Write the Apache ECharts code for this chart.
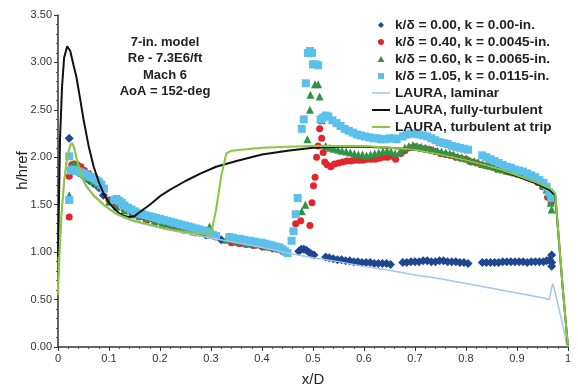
<!DOCTYPE html>
<html>
<head>
<meta charset="utf-8">
<script src="https://cdn.jsdelivr.net/npm/echarts@6/dist/echarts.min.js"></script>
<style>
  html, body { margin: 0; padding: 0; background: #fff; }
  #chart { width: 578px; height: 389px; }
</style>
</head>
<body>
<div id="chart"></div>
<script>
// legend names
var seriesNames = [
	'k/\u03b4 = 0.00, k = 0.00-in.',
	'k/\u03b4 = 0.40, k = 0.0045-in.',
	'k/\u03b4 = 0.60, k = 0.0065-in.',
	'k/\u03b4 = 1.05, k = 0.0115-in.',
	'LAURA, laminar',
	'LAURA, fully-turbulent',
	'LAURA, turbulent at trip'
];
var xTicks = [0, 0.1, 0.2, 0.3, 0.4, 0.5, 0.6, 0.7, 0.8, 0.9, 1];
var yTicks = [0, 0.5, 1, 1.5, 2, 2.5, 3, 3.5];
var noteLines = ['7-in. model', 'Re - 7.3E6/ft', 'Mach 6', 'AoA = 152-deg'];

// measured points [x/D, h/href]
var k000 = [
	[0.022,2.2],[0.025,1.88],[0.03,1.86],[0.04,1.84],[0.05,1.8],[0.06,1.76],[0.07,1.72],[0.08,1.68],[0.089,1.6],
	[0.11,1.53],[0.13,1.47],[0.15,1.4],[0.17,1.36],[0.19,1.33],[0.21,1.3],[0.23,1.27],[0.25,1.24],[0.27,1.21],[0.29,1.18],
	[0.32,1.13],[0.34,1.12],[0.36,1.1],[0.38,1.08],[0.4,1.06],[0.42,1.04],[0.44,1.01],
	[0.472,1.01],[0.477,1.03],[0.482,1.03],[0.487,1.02],[0.492,1.0],[0.497,0.98],[0.502,0.97],
	[0.525,0.95],[0.532,0.94],[0.54,0.93],[0.548,0.92],[0.556,0.92],[0.564,0.91],[0.572,0.91],[0.58,0.9],[0.588,0.9],
	[0.596,0.89],[0.604,0.89],[0.612,0.89],[0.62,0.88],[0.628,0.88],[0.636,0.88],[0.644,0.88],[0.652,0.87],
	[0.676,0.89],[0.684,0.89],[0.692,0.9],[0.7,0.9],[0.708,0.9],[0.716,0.91],[0.724,0.91],[0.732,0.9],[0.74,0.9],
	[0.748,0.91],[0.756,0.91],[0.764,0.9],[0.772,0.9],[0.78,0.9],[0.788,0.89],[0.796,0.89],[0.804,0.88],
	[0.832,0.89],[0.84,0.89],[0.848,0.89],[0.856,0.89],[0.864,0.89],[0.872,0.9],[0.88,0.9],[0.888,0.9],[0.896,0.9],
	[0.904,0.9],[0.912,0.9],[0.92,0.89],[0.928,0.9],[0.936,0.9],[0.944,0.9],[0.952,0.9],[0.958,0.91],[0.964,0.92],
	[0.968,0.97],[0.968,0.85],[0.968,0.89]
];
var k040 = [
	[0.022,1.37],[0.022,1.8],[0.027,1.92],[0.032,1.93],[0.038,1.92],[0.045,1.9],[0.052,1.86],[0.06,1.83],[0.068,1.79],[0.076,1.76],[0.085,1.72],
	[0.1,1.55],[0.115,1.5],[0.13,1.45],[0.145,1.41],[0.16,1.37],[0.175,1.34],[0.19,1.31],[0.205,1.29],[0.22,1.27],[0.235,1.25],
	[0.25,1.23],[0.265,1.21],[0.28,1.2],[0.295,1.18],[0.31,1.16],[0.34,1.1],[0.355,1.09],[0.37,1.08],[0.385,1.07],[0.4,1.06],
	[0.415,1.05],[0.43,1.03],[0.44,1.01],
	[0.461,1.22],[0.466,1.3],[0.476,1.33],[0.494,1.28],[0.498,1.52],[0.501,1.7],[0.504,1.79],[0.507,2.0],[0.51,2.12],
	[0.513,2.3],[0.517,2.2],[0.52,2.05],[0.523,1.95],
	[0.528,1.92],[0.535,1.9],[0.542,1.93],[0.55,1.94],[0.558,1.95],[0.566,1.96],[0.574,1.96],[0.582,1.97],[0.59,1.97],
	[0.598,1.97],[0.606,1.98],[0.614,1.98],[0.622,1.98],[0.63,1.99],[0.638,2.0],[0.646,2.0],[0.654,2.01],[0.662,1.98],
	[0.672,2.04],[0.68,2.07],[0.69,2.1],[0.7,2.11],[0.71,2.1],[0.72,2.09],[0.73,2.08],[0.74,2.06],[0.75,2.04],[0.76,2.03],
	[0.77,2.02],[0.78,2.0],[0.79,1.99],[0.8,1.98],[0.81,1.95],[0.82,1.94],[0.83,1.92],[0.84,1.91],[0.85,1.9],[0.86,1.88],
	[0.87,1.87],[0.88,1.85],[0.89,1.84],[0.9,1.83],[0.91,1.81],[0.92,1.79],[0.93,1.77],[0.94,1.74],[0.95,1.69],[0.96,1.58],[0.967,1.52]
];
var k060 = [
	[0.022,1.6],[0.026,1.9],[0.031,1.93],[0.037,1.9],[0.044,1.86],[0.052,1.82],[0.06,1.78],[0.068,1.75],[0.076,1.72],[0.084,1.7],
	[0.1,1.53],[0.115,1.48],[0.13,1.44],[0.145,1.4],[0.16,1.38],[0.175,1.36],[0.19,1.33],[0.205,1.31],[0.22,1.29],[0.235,1.26],
	[0.25,1.24],[0.265,1.22],[0.28,1.21],[0.297,1.27],[0.31,1.17],[0.33,1.13],[0.35,1.11],[0.37,1.09],[0.39,1.08],[0.41,1.06],[0.43,1.04],
	[0.478,1.43],[0.485,1.5],[0.489,2.19],[0.494,2.5],[0.495,2.66],[0.504,2.77],[0.51,2.77],[0.513,2.64],[0.517,2.39],
	[0.525,2.12],[0.533,2.1],[0.541,2.09],[0.549,2.08],[0.557,2.07],[0.565,2.06],[0.573,2.05],[0.581,2.04],[0.589,2.03],
	[0.597,2.03],[0.605,2.02],[0.613,2.03],[0.621,2.04],[0.629,2.05],[0.637,2.06],[0.645,2.07],[0.653,2.06],[0.661,2.04],
	[0.672,2.06],[0.68,2.1],[0.688,2.12],[0.696,2.13],[0.704,2.12],[0.712,2.11],[0.72,2.1],[0.728,2.09],[0.736,2.08],
	[0.744,2.07],[0.752,2.06],[0.76,2.05],[0.768,2.04],[0.776,2.03],[0.784,2.01],[0.792,2.0],[0.8,1.99],[0.808,1.97],
	[0.816,1.96],[0.824,1.95],[0.832,1.93],[0.84,1.92],[0.848,1.91],[0.856,1.9],[0.864,1.88],[0.872,1.87],[0.88,1.86],
	[0.888,1.85],[0.896,1.84],[0.904,1.83],[0.912,1.82],[0.92,1.8],[0.928,1.79],[0.936,1.77],[0.944,1.74],[0.952,1.7],
	[0.958,1.66],[0.962,1.6],[0.966,1.52],[0.968,1.45]
];
var k105 = [
	[0.022,2.01],[0.022,1.55],[0.025,1.86],[0.03,1.87],[0.035,1.86],[0.04,1.85],[0.045,1.84],[0.05,1.83],[0.055,1.82],[0.06,1.8],
	[0.065,1.79],[0.07,1.78],[0.075,1.76],[0.08,1.74],[0.085,1.71],[0.09,1.67],
	[0.11,1.55],[0.115,1.56],[0.12,1.54],[0.125,1.52],[0.13,1.49],[0.137,1.47],[0.144,1.45],[0.151,1.43],[0.158,1.41],
	[0.165,1.4],[0.172,1.39],[0.179,1.38],[0.186,1.37],[0.193,1.36],[0.2,1.35],[0.207,1.34],[0.214,1.33],[0.221,1.32],
	[0.228,1.31],[0.235,1.3],[0.242,1.29],[0.249,1.28],[0.256,1.27],[0.263,1.26],[0.27,1.25],[0.277,1.24],[0.284,1.23],
	[0.291,1.22],[0.298,1.2],[0.304,1.18],[0.31,1.17],
	[0.336,1.16],[0.343,1.15],[0.35,1.14],[0.357,1.14],[0.364,1.13],[0.371,1.12],[0.378,1.12],[0.385,1.11],[0.392,1.1],
	[0.399,1.1],[0.406,1.09],[0.413,1.08],[0.42,1.07],[0.427,1.06],[0.434,1.05],[0.44,1.03],[0.445,1.01],[0.45,0.99],
	[0.458,1.12],[0.462,1.22],[0.466,1.4],[0.47,1.57],[0.478,2.3],[0.482,2.4],[0.486,2.78],[0.49,3.1],[0.494,3.12],
	[0.498,3.1],[0.5,2.98],[0.505,2.98],[0.51,2.97],
	[0.515,2.4],[0.52,2.42],[0.525,2.44],[0.53,2.43],[0.538,2.39],[0.546,2.36],[0.554,2.33],[0.562,2.3],[0.57,2.28],
	[0.578,2.26],[0.586,2.24],[0.594,2.23],[0.602,2.22],[0.61,2.21],[0.618,2.2],[0.626,2.2],[0.634,2.19],[0.642,2.19],
	[0.65,2.2],[0.658,2.2],[0.664,2.19],
	[0.676,2.22],[0.684,2.24],[0.692,2.25],[0.7,2.25],[0.708,2.24],[0.716,2.23],[0.724,2.22],[0.732,2.2],[0.74,2.18],
	[0.748,2.16],[0.756,2.15],[0.764,2.14],[0.772,2.12],[0.78,2.11],[0.788,2.1],[0.796,2.09],[0.804,2.08],
	[0.832,2.02],[0.84,2.0],[0.848,1.98],[0.856,1.96],[0.864,1.94],[0.872,1.92],[0.88,1.9],[0.888,1.89],[0.896,1.87],
	[0.904,1.86],[0.912,1.85],[0.92,1.83],[0.928,1.81],[0.936,1.79],[0.944,1.76],[0.952,1.73],[0.958,1.69],[0.963,1.63],[0.967,1.57]
];

// LAURA predictions
var lauraLaminar = [
	[0,0.6],[0.003,1.0],[0.007,1.4],[0.012,1.75],[0.018,2.0],[0.024,2.12],[0.028,2.14],[0.032,2.08],[0.037,1.97],[0.045,1.81],
	[0.055,1.69],[0.07,1.59],[0.09,1.49],[0.11,1.41],[0.13,1.36],[0.15,1.32],[0.18,1.28],[0.21,1.24],[0.24,1.21],[0.27,1.18],
	[0.3,1.15],[0.35,1.1],[0.4,1.05],[0.45,0.99],[0.5,0.94],[0.55,0.9],[0.6,0.85],[0.65,0.81],[0.7,0.76],[0.75,0.72],
	[0.8,0.67],[0.85,0.62],[0.9,0.57],[0.95,0.52],[0.963,0.5],[0.97,0.67],[0.976,0.55],[0.99,0.22],[0.998,0.02]
];
var lauraTurb = [
	[0,0.95],[0.004,2.2],[0.008,2.75],[0.012,3.05],[0.018,3.17],[0.024,3.12],[0.03,2.98],[0.036,2.85],[0.042,2.66],[0.05,2.4],
	[0.06,2.12],[0.07,1.9],[0.08,1.74],[0.09,1.61],[0.1,1.52],[0.11,1.46],[0.12,1.41],[0.13,1.38],[0.14,1.37],[0.15,1.38],
	[0.16,1.42],[0.18,1.5],[0.2,1.59],[0.22,1.66],[0.25,1.75],[0.28,1.83],[0.31,1.9],[0.35,1.96],[0.4,2.03],[0.45,2.07],
	[0.5,2.1],[0.55,2.11],[0.6,2.11],[0.65,2.1],[0.7,2.08],[0.75,2.03],[0.8,1.97],[0.85,1.9],[0.9,1.8],[0.94,1.72],
	[0.965,1.65],[0.975,1.6],[0.99,0.6],[1.0,0.0]
];
var lauraTrip = [
	[0,0.55],[0.003,1.0],[0.007,1.4],[0.012,1.75],[0.018,2.0],[0.024,2.13],[0.028,2.15],[0.032,2.1],[0.037,1.98],[0.045,1.82],
	[0.055,1.7],[0.07,1.6],[0.09,1.5],[0.11,1.42],[0.13,1.37],[0.15,1.33],[0.18,1.29],[0.21,1.25],[0.24,1.22],[0.27,1.2],
	[0.3,1.19],[0.31,1.45],[0.32,1.8],[0.33,2.04],[0.34,2.07],[0.4,2.1],[0.45,2.11],[0.5,2.12],[0.55,2.12],[0.6,2.12],
	[0.65,2.1],[0.7,2.08],[0.75,2.03],[0.8,1.97],[0.85,1.9],[0.9,1.81],[0.94,1.73],[0.965,1.67],[0.975,1.62],[0.99,0.6],[1.0,0.0]
];

var chart = echarts.init(document.getElementById('chart'));
var font = '"Liberation Sans", Arial, Helvetica, sans-serif';

// legend icons drawn inside an 18x8 box so they are not stretched
var box = 'M0,0L0,0M18,8L18,8';
var legendIcons = [
	'path://' + box + 'M9,1L12,4L9,7L6,4Z',
	'path://' + box + 'M6,4A3,3 0 1,0 12,4A3,3 0 1,0 6,4Z',
	'path://' + box + 'M9,1L12.5,7L5.5,7Z',
	'path://' + box + 'M6,1L12,1L12,7L6,7Z',
	'path://' + box + 'M0,3.2L18,3.2L18,4.8L0,4.8Z',
	'path://' + box + 'M0,3L18,3L18,5L0,5Z',
	'path://' + box + 'M0,3L18,3L18,5L0,5Z'
];
var legendData = seriesNames.map(function(n, i) {
	return { name: n, icon: legendIcons[i] };
});

function pointSeries(name, data, symbol, size, color) {
	return {
		name: name,
		type: 'scatter',
		data: data,
		symbol: symbol,
		symbolSize: size,
		itemStyle: { color: color, opacity: 1 },
		z: 2
	};
}
function lineSeries(name, data, color, width) {
	return {
		name: name,
		type: 'line',
		data: data,
		showSymbol: false,
		symbol: 'none',
		lineStyle: { color: color, width: width },
		itemStyle: { color: color },
		z: 3
	};
}

var option = {
	animation: false,
	backgroundColor: '#fff',
	textStyle: { fontFamily: font },
	grid: { left: 58, right: 10, top: 15, bottom: 42, outerBoundsMode: 'none', containLabel: false },
	xAxis: {
		type: 'value',
		min: xTicks[0],
		max: xTicks[xTicks.length - 1],
		interval: 0.1,
		name: 'x/D',
		nameLocation: 'middle',
		nameGap: 25,
		nameMoveOverlap: false,
		nameTextStyle: { fontSize: 15, color: '#222', fontFamily: font },
		axisLine: { lineStyle: { color: '#333', width: 1.5 } },
		axisTick: { length: 4, lineStyle: { color: '#333' } },
		minorTick: { show: true, splitNumber: 5, length: 2, lineStyle: { color: '#555' } },
		splitLine: { show: false },
		axisLabel: {
			fontSize: 11, color: '#333', margin: 6,
			formatter: function(v) { return String(Math.round(v * 10) / 10); }
		}
	},
	yAxis: {
		type: 'value',
		min: yTicks[0],
		max: yTicks[yTicks.length - 1],
		interval: 0.5,
		name: 'h/href',
		nameLocation: 'middle',
		nameGap: 28,
		nameRotate: 90,
		nameMoveOverlap: false,
		nameTextStyle: { fontSize: 15, color: '#222', fontFamily: font, padding: [0, 0, 0, 21] },
		axisLine: { show: true, lineStyle: { color: '#333', width: 1.5 } },
		axisTick: { show: true, length: 4, lineStyle: { color: '#333' } },
		minorTick: { show: true, splitNumber: 5, length: 2, lineStyle: { color: '#555' } },
		splitLine: { show: false },
		axisLabel: {
			fontSize: 11, color: '#333', margin: 6,
			formatter: function(v) { return v.toFixed(2); }
		}
	},
	legend: {
		orient: 'vertical',
		left: 372,
		top: 18,
		padding: 0,
		itemWidth: 18,
		itemHeight: 8,
		itemGap: 3,
		symbolKeepAspect: true,
		selectedMode: false,
		data: legendData,
		textStyle: { fontSize: 13.7, fontWeight: 'bold', color: '#222', lineHeight: 14, fontFamily: font }
	},
	graphic: [{
		type: 'text',
		x: 165,
		y: 34,
		style: {
			text: noteLines.join('\n'),
			font: 'bold 13px ' + font,
			fill: '#222',
			align: 'center',
			verticalAlign: 'top',
			lineHeight: 16.5
		}
	}],
	series: [
		pointSeries(seriesNames[0], k000, 'diamond', 9, '#1f4690'),
		pointSeries(seriesNames[1], k040, 'circle', 7, '#e3262b'),
		pointSeries(seriesNames[2], k060, 'triangle', 8, '#2f9448'),
		pointSeries(seriesNames[3], k105, 'rect', 8, '#5cc1ea'),
		lineSeries(seriesNames[4], lauraLaminar, '#a3c6ea', 1.5),
		lineSeries(seriesNames[5], lauraTurb, '#111111', 2),
		lineSeries(seriesNames[6], lauraTrip, '#8cc63f', 2)
	]
};
chart.setOption(option);
</script>
</body>
</html>
